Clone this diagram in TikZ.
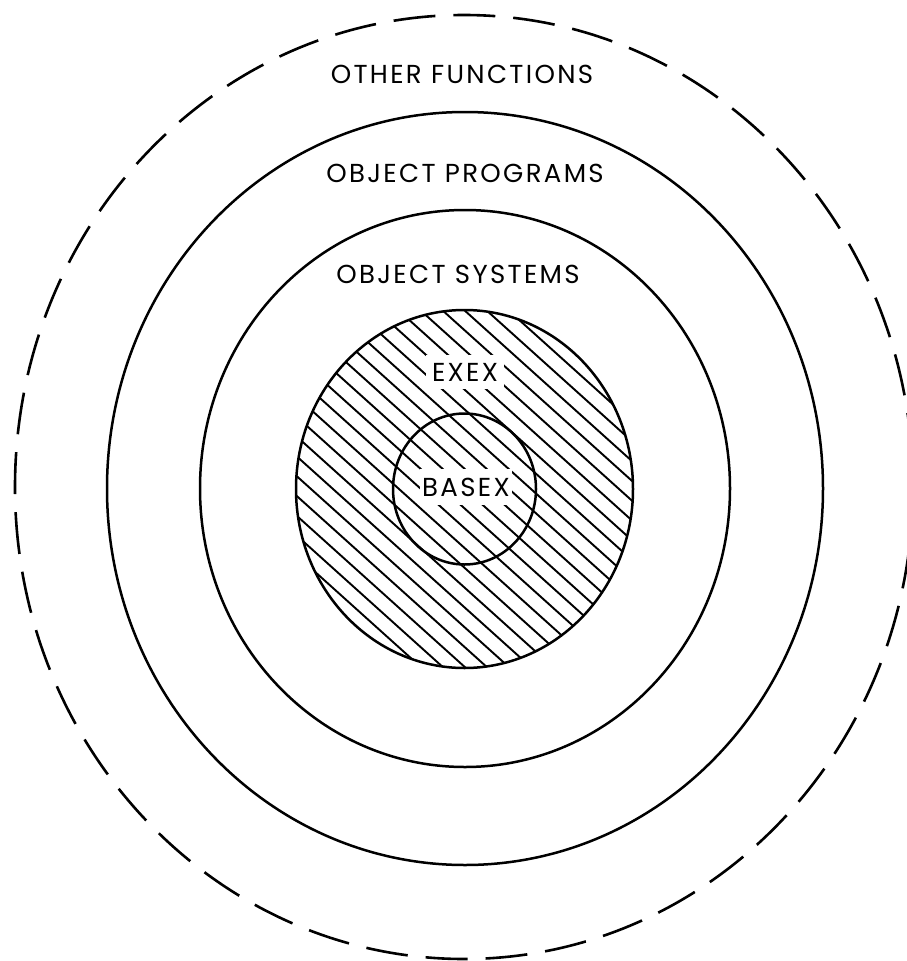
\documentclass[tikz,border=0pt]{standalone}
\usepackage{fontspec}
\setmainfont{Poppins}[LetterSpace=9]
\begin{document}
\begin{tikzpicture}[x=1pt,y=-1pt,
  ring/.style={line width=2.5pt},
  dashring/.style={line width=2.6pt, dash pattern=on 42pt off 18pt},
  hatchline/.style={line width=1.9pt},
  lbl/.style={font=\fontsize{26}{30}\selectfont, inner sep=0pt, text=black},
  gaplbl/.style={lbl, fill=white}]
\useasboundingbox (0,0) rectangle (907,961);
\fill[white] (0,0) rectangle (907,961);
% hatching of EXEX (and BASEX)
\begin{scope}
  \clip (464.5,489) ellipse [x radius=168.5, y radius=179];
  \foreach \i in {-25,...,25} {
    \draw[hatchline] ({465+\i*22-300},{489-270}) -- ({465+\i*22+300},{489+270});
  }
\end{scope}
% labels inside hatched area (white gaps)
\node[gaplbl, inner xsep=6pt, inner ysep=8pt] (exex) at (465,372) {EXEX};
\node[gaplbl, inner xsep=2pt, inner ysep=9pt] (basex) at (466,487) {BASEX};
% rings
\draw[dashring] (464,487) ellipse [x radius=449, y radius=472];
\draw[ring] (465,488.5) ellipse [x radius=358, y radius=376.5];
\draw[ring] (465,488.5) ellipse [x radius=265, y radius=278.5];
\draw[ring] (464.5,489) ellipse [x radius=168.5, y radius=179];
\draw[ring] (464.5,489) ellipse [x radius=71.5, y radius=75.5];
% outer labels
\node[lbl] (other) at (462,74) {OTHER FUNCTIONS};
\node[lbl] (progs) at (465,173) {OBJECT PROGRAMS};
\node[lbl] (systems) at (458,274) {OBJECT SYSTEMS};
\end{tikzpicture}
\end{document}
